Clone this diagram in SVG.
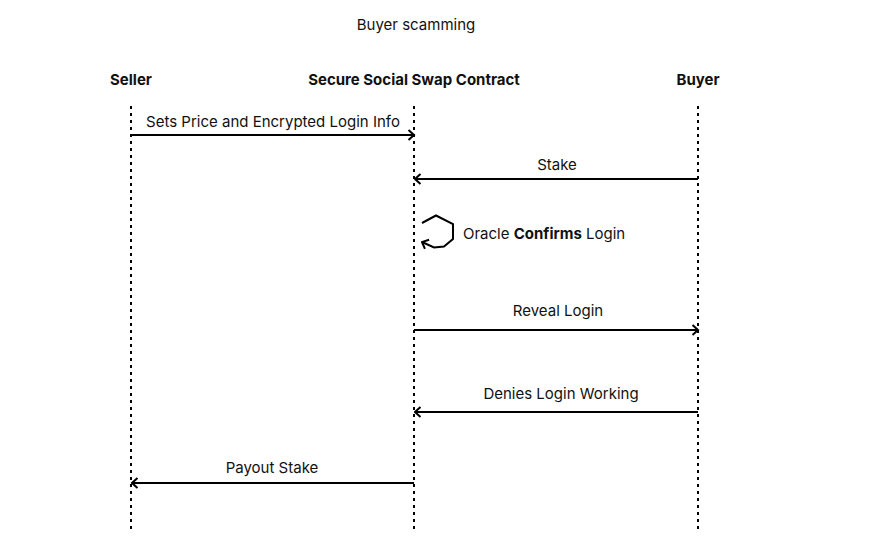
<svg xmlns="http://www.w3.org/2000/svg" width="869" height="554" viewBox="0 0 869 554">
<defs>
<marker id="ah" viewBox="0 0 12 12" refX="10.5" refY="6" markerWidth="12" markerHeight="12" markerUnits="userSpaceOnUse" orient="auto-start-reverse">
<path d="M5,1 L10.5,6 L5,11" fill="none" stroke="#000" stroke-width="2"/>
</marker>
<style>
text{font-family:Inter,"Liberation Sans",sans-serif;font-size:15px;fill:#111}
.h{font-weight:bold;text-anchor:middle}
.l{text-anchor:middle}
.life{stroke:#000;stroke-width:2;stroke-dasharray:3 4;fill:none}
.msg{stroke:#000;stroke-width:2;fill:none;marker-end:url(#ah)}
</style>
</defs>
<rect width="869" height="554" fill="#fff"/>
<text x="416" y="30" class="l">Buyer scamming</text>
<g id="seller"><text x="131" y="85" class="h">Seller</text><line x1="131" y1="106" x2="131" y2="533" class="life"/></g>
<g id="contract"><text x="414" y="85" class="h">Secure Social Swap Contract</text><line x1="414" y1="106" x2="414" y2="533" class="life"/></g>
<g id="buyer"><text x="698" y="85" class="h">Buyer</text><line x1="698" y1="106" x2="698" y2="533" class="life"/></g>
<g id="connectors">
<line x1="131" y1="135" x2="414" y2="135" class="msg"/>
<text x="273" y="127" class="l">Sets Price and Encrypted Login Info</text>
<line x1="698" y1="179" x2="415" y2="179" class="msg"/>
<text x="557" y="170" class="l">Stake</text>
<path d="M422,223 L436,215.5 L453,224 L453,239 L444,246.5 L434,247.5 L422,242" class="msg"/>
<text x="463" y="239">Oracle <tspan font-weight="bold">Confirms</tspan> Login</text>
<line x1="414" y1="330" x2="698" y2="330" class="msg"/>
<text x="558" y="316" class="l">Reveal Login</text>
<line x1="698" y1="412" x2="415" y2="412" class="msg"/>
<text x="561" y="399" class="l">Denies Login Working</text>
<line x1="414" y1="483" x2="132" y2="483" class="msg"/>
<text x="272" y="473" class="l">Payout Stake</text>
</g>
</svg>
